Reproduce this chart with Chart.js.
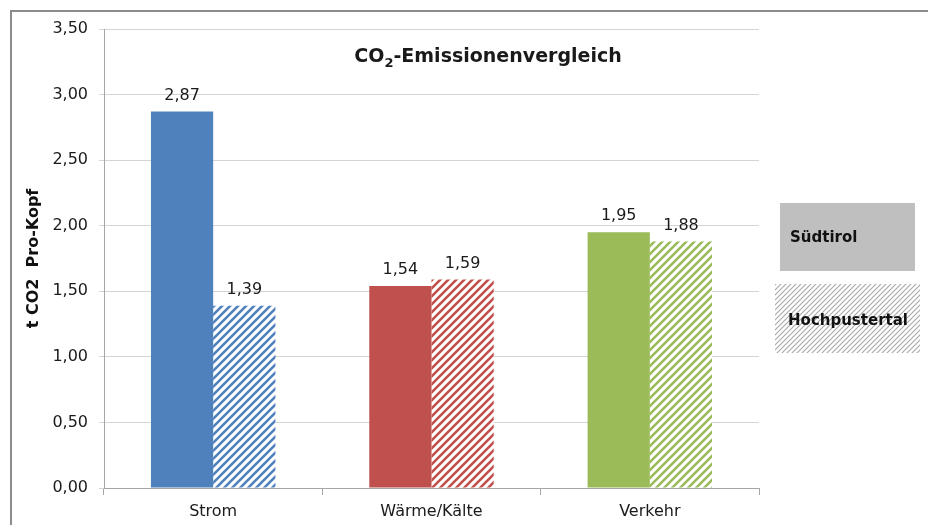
<!DOCTYPE html>
<html>
<head>
<meta charset="utf-8">
<script src="https://cdn.jsdelivr.net/npm/chart.js@4.4.1/dist/chart.umd.min.js"></script>
<style>
  html, body { margin: 0; padding: 0; background: #fff; }
  #wrap { width: 928px; height: 525px; position: relative; }
</style>
</head>
<body>
<div id="wrap"><canvas id="chart" width="928" height="525"></canvas></div>
<script>
var categories = ['Strom', 'Wärme/Kälte', 'Verkehr'];
var seriesNames = ['Südtirol', 'Hochpustertal'];
var suedtirol = [2.87, 1.54, 1.95];
var hochpustertal = [1.39, 1.59, 1.88];
var categoryColors = ['#4F81BD', '#C0504D', '#9BBB59'];
var yTicks = [0, 0.5, 1, 1.5, 2, 2.5, 3, 3.5];
var chartTitle = 'CO2-Emissionenvergleich';
var yTitle = 't CO2  Pro-Kopf';

var FONT = '"DejaVu Sans", sans-serif';

// diagonal hatch pattern, stripes going up to the right
function hatch(color, size, width) {
    var c = document.createElement('canvas');
    c.width = size; c.height = size;
    var g = c.getContext('2d');
    g.fillStyle = '#fff';
    g.fillRect(0, 0, size, size);
    g.strokeStyle = color;
    g.lineWidth = width;
    g.beginPath();
    [-size, 0, size].forEach(function(o) {
        g.moveTo(o - 2, size + 2); g.lineTo(o + size + 2, -2);
    });
    g.stroke();
    return document.getElementById('chart').getContext('2d').createPattern(c, 'repeat');
}

function fmt(v) {
    return v.toFixed(2).replace('.', ',');
}

var deco = {
    id: 'deco',
    beforeDraw: function(chart) {
        var ctx = chart.ctx;
        ctx.save();
        ctx.strokeStyle = '#8c8c8c';
        ctx.lineWidth = 2;
        ctx.beginPath();
        ctx.moveTo(11, 525); ctx.lineTo(11, 11); ctx.lineTo(928, 11);
        ctx.stroke();
        ctx.restore();
    },
    afterDatasetsDraw: function(chart) {
        var ctx = chart.ctx;
        var area = chart.chartArea;
        ctx.save();
        // value labels
        ctx.font = '16px ' + FONT;
        ctx.fillStyle = '#1a1a1a';
        ctx.textAlign = 'center';
        ctx.textBaseline = 'bottom';
        chart.data.datasets.forEach(function(ds, i) {
            chart.getDatasetMeta(i).data.forEach(function(bar, j) {
                ctx.fillText(fmt(ds.data[j]), bar.x, bar.y - 8);
            });
        });
        // title with subscript 2
        ctx.textBaseline = 'middle';
        ctx.textAlign = 'left';
        var t1 = chartTitle.slice(0, 2), t2 = chartTitle.slice(2, 3), t3 = chartTitle.slice(3);
        ctx.font = 'bold 19px ' + FONT;
        var w1 = ctx.measureText(t1).width, w3 = ctx.measureText(t3).width;
        ctx.font = 'bold 13px ' + FONT;
        var w2 = ctx.measureText(t2).width;
        var tx = 488 - (w1 + w2 + w3) / 2, ty = 57;
        ctx.font = 'bold 19px ' + FONT;
        ctx.fillText(t1, tx, ty);
        ctx.font = 'bold 13px ' + FONT;
        ctx.fillText(t2, tx + w1, ty + 7);
        ctx.font = 'bold 19px ' + FONT;
        ctx.fillText(t3, tx + w1 + w2, ty);
        // legend
        var x0 = area.right;
        ctx.fillStyle = '#BFBFBF';
        ctx.fillRect(x0 + 21, 203, 135, 68);
        ctx.fillStyle = hatch('#ABABAB', 5, 1.2);
        ctx.fillRect(x0 + 16, 284, 145, 69);
        ctx.fillStyle = '#111';
        ctx.font = 'bold 15px ' + FONT;
        ctx.textAlign = 'left';
        ctx.fillText(seriesNames[0], x0 + 31, 238);
        ctx.textAlign = 'center';
        ctx.fillText(seriesNames[1], x0 + 89, 321);
        ctx.restore();
    }
};

var ctx = document.getElementById('chart').getContext('2d');
new Chart(ctx, {
    type: 'bar',
    data: {
        labels: categories,
        datasets: [{
            label: seriesNames[0],
            data: suedtirol,
            backgroundColor: categoryColors,
            categoryPercentage: 0.57,
            barPercentage: 1
        }, {
            label: seriesNames[1],
            data: hochpustertal,
            backgroundColor: categoryColors.map(function(c) { return hatch(c, 8, 2.6); }),
            categoryPercentage: 0.57,
            barPercentage: 1
        }]
    },
    options: {
        responsive: false,
        animation: false,
        layout: { padding: { left: 24, top: 29, right: 169, bottom: 0 } },
        plugins: {
            legend: { display: false },
            title: { display: false },
            tooltip: { enabled: false }
        },
        scales: {
            x: {
                grid: { offset: true, drawOnChartArea: false, color: '#A6A6A6', tickLength: 7 },
                border: { color: '#A6A6A6' },
                ticks: { font: { family: FONT, size: 16 }, color: '#1a1a1a', padding: 7 },
                afterFit: function(s) { s.height = 37; }
            },
            y: {
                min: 0, max: 3.5,
                afterBuildTicks: function(s) { s.ticks = yTicks.map(function(v) { return { value: v }; }); },
                grid: { color: '#D4D4D4', tickLength: 5 },
                border: { color: '#A6A6A6' },
                ticks: {
                    font: { family: FONT, size: 16 }, color: '#1a1a1a', padding: 11,
                    callback: function(v) { return fmt(v); }
                },
                title: {
                    display: true, text: yTitle,
                    font: { family: FONT, size: 16, weight: 'bold' }, color: '#111',
                    padding: { top: 0, bottom: 4 }
                },
                afterFit: function(s) { s.width = 80; }
            }
        }
    },
    plugins: [deco]
});
</script>
</body>
</html>
